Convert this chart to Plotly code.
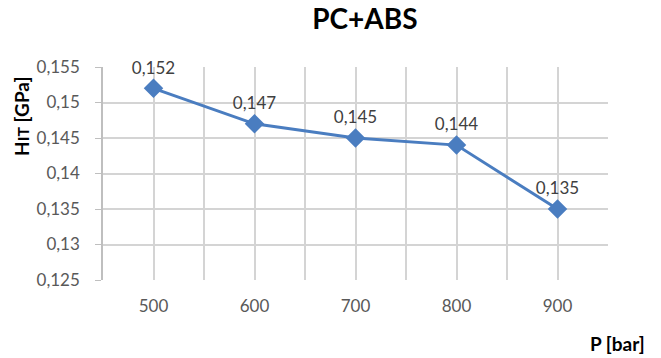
import plotly.graph_objects as go

pressure = [500, 600, 700, 800, 900]
hit = [0.152, 0.147, 0.145, 0.144, 0.135]
grid_x = [450, 500, 550, 600, 650, 700, 750, 800, 850, 900, 950]
grid_text = ["" if v % 100 else str(v) for v in grid_x]
y_ticks = [0.125, 0.13, 0.135, 0.14, 0.145, 0.15, 0.155]

FONT = "Lato"

fig = go.Figure(go.Scatter(
    x=pressure, y=hit, mode="lines+markers+text",
    line=dict(color="#4a7dc0", width=3),
    marker=dict(symbol="diamond", size=15, color="#4a7dc0"),
    text=[f"{v:.3f}".replace(".", ",") for v in hit],
    textposition="top center",
    textfont=dict(family=FONT, size=17, color="#404040"),
    cliponaxis=False,
))

fig.update_layout(
    width=661, height=358,
    margin=dict(l=103, r=53, t=67, b=78),
    paper_bgcolor="white", plot_bgcolor="white",
    showlegend=False,
    separators=",.",
    title=dict(text="<b>PC+ABS</b>", x=0.552, xanchor="center", y=0.975, yanchor="top",
               font=dict(family=FONT, size=28, color="#000000")),
    xaxis=dict(range=[450, 950], tickvals=grid_x, ticktext=grid_text,
               showgrid=True, gridcolor="#d4d4d4", gridwidth=1.5,
               showline=False, zeroline=False, ticks="", ticklabelstandoff=14,
               tickfont=dict(family=FONT, size=17, color="#595959")),
    yaxis=dict(range=[0.125, 0.155], tickvals=y_ticks, tickformat=".3~f",
               showgrid=True, gridcolor="#d4d4d4", gridwidth=1.5,
               showline=True, linecolor="#bfbfbf", linewidth=1.5,
               ticks="outside", ticklen=6, tickcolor="#bfbfbf",
               zeroline=False, ticklabelstandoff=12,
               tickfont=dict(family=FONT, size=17, color="#595959")),
    annotations=[
        dict(text="<b>H<span style='font-size:16px'>IT</span> [GPa]</b>",
             xref="paper", yref="paper",
             x=(22 - 103) / 505, y=(280 - 117) / 213, textangle=-90,
             xanchor="center", yanchor="middle", showarrow=False,
             font=dict(family=FONT, size=19, color="#000000")),
        dict(text="<b>P [bar]</b>", xref="paper", yref="paper",
             x=(617 - 103) / 505, y=(280 - 343) / 213,
             xanchor="center", yanchor="middle", showarrow=False,
             font=dict(family=FONT, size=19, color="#000000")),
    ],
)

fig.write_html("out.html")
